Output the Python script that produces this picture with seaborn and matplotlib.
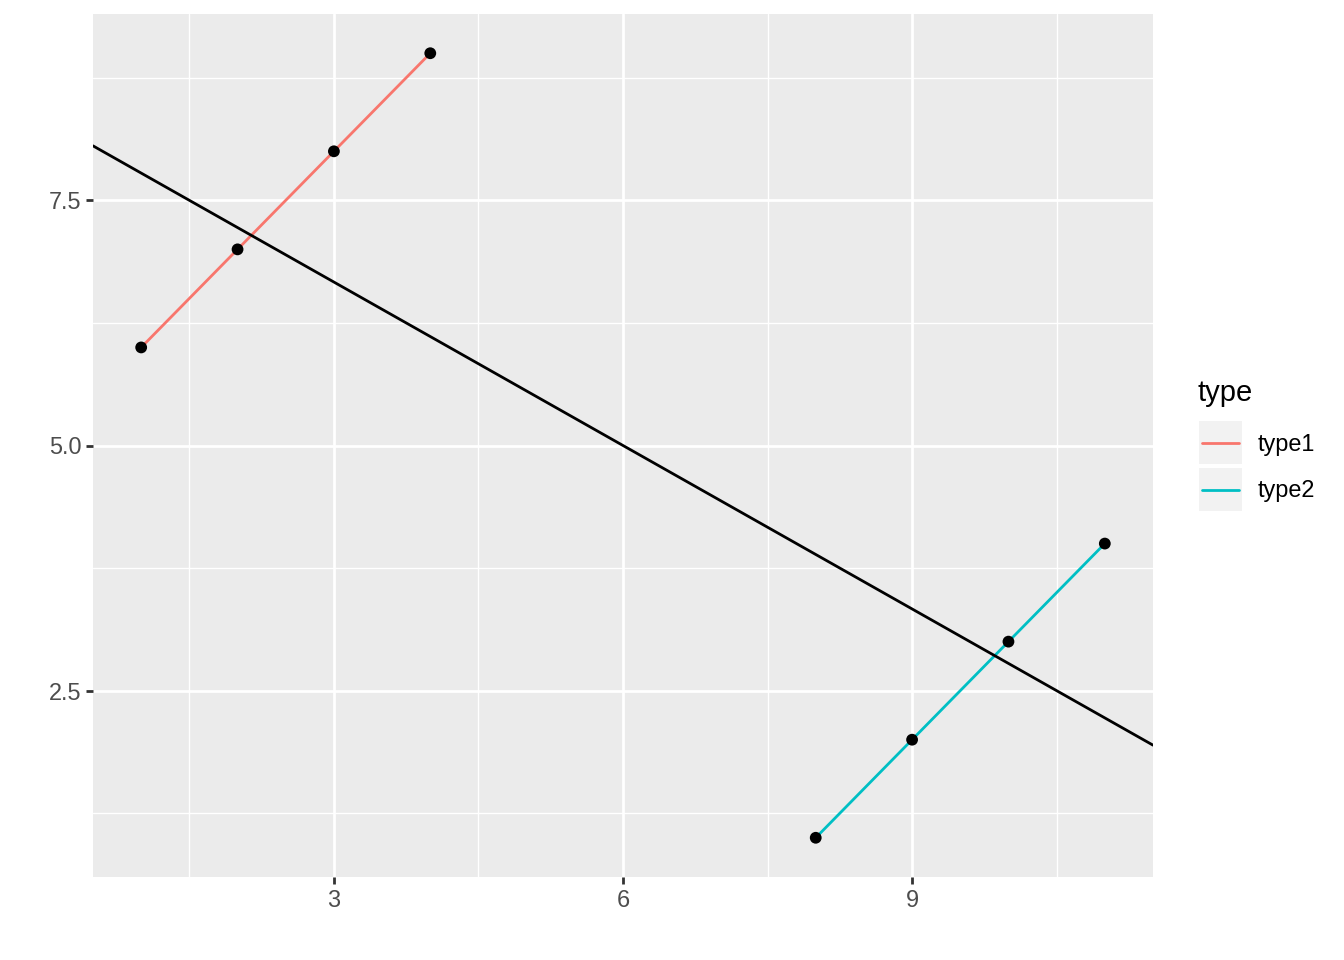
import numpy as np
import pandas as pd
import matplotlib
matplotlib.use("Agg")
import matplotlib.pyplot as plt
import seaborn as sns
from matplotlib.patches import Rectangle
from matplotlib.lines import Line2D

# ----------------------------------------------------------------------------------
# Data
# ----------------------------------------------------------------------------------
x_vals = [1, 2, 3, 4, 8, 9, 10, 11]
y_vals = [6, 7, 8, 9, 1, 2, 3, 4]
types = ["type1"] * 4 + ["type2"] * 4

levels = ["type1", "type2"]
colors = ["#F8766D", "#00BFC4"]

x_ticks = [3, 6, 9]
y_ticks = [2.5, 5.0, 7.5]

df = pd.DataFrame({"x": x_vals, "y": y_vals, "type": types})

# ----------------------------------------------------------------------------------
# Style (ggplot2 grey theme look)
# ----------------------------------------------------------------------------------
sns.set_style("darkgrid")
plt.rcParams["font.family"] = ["Liberation Sans", "DejaVu Sans"]

W, H = 1344, 960
fig = plt.figure(figsize=(W / 100, H / 100), dpi=100)
left, right, top, bottom = 93, 1153, 14, 877
ax = fig.add_axes([left / W, 1 - bottom / H, (right - left) / W, (bottom - top) / H])
ax.set_facecolor("#EBEBEB")

# 5% expansion like ggplot
xr = max(x_vals) - min(x_vals)
yr = max(y_vals) - min(y_vals)
xlim = (min(x_vals) - 0.05 * xr, max(x_vals) + 0.05 * xr)
ylim = (min(y_vals) - 0.05 * yr, max(y_vals) + 0.05 * yr)
ax.set_xlim(*xlim)
ax.set_ylim(*ylim)

# grid
ax.set_xticks(x_ticks)
ax.set_yticks(y_ticks)
ax.set_xticks([1.5, 4.5, 7.5, 10.5], minor=True)
ax.set_yticks([1.25, 3.75, 6.25, 8.75], minor=True)
ax.grid(which="major", color="white", linewidth=2.0)
ax.grid(which="minor", color="white", linewidth=1.0)
ax.set_axisbelow(True)
for s in ax.spines.values():
    s.set_visible(False)

# ----------------------------------------------------------------------------------
# Marks
# ----------------------------------------------------------------------------------
sns.lineplot(data=df, x="x", y="y", hue="type", hue_order=levels,
             palette=colors, linewidth=2.0, legend=False, ax=ax, zorder=2)
sns.regplot(data=df, x="x", y="y", scatter=False, ci=None, truncate=False,
            color="black", line_kws={"linewidth": 2.0, "zorder": 3}, ax=ax)
sns.scatterplot(data=df, x="x", y="y", color="black", s=72, edgecolor="none",
                legend=False, ax=ax, zorder=4)

ax.set_xlim(*xlim)
ax.set_ylim(*ylim)
ax.set_xlabel("")
ax.set_ylabel("")
ax.set_xticklabels([f"{t:g}" for t in x_ticks])
ax.set_yticklabels([f"{t:.1f}" for t in y_ticks])
ax.tick_params(which="major", bottom=True, left=True, length=5.3, width=2.0,
               color="#333333", labelcolor="#4D4D4D", labelsize=16.9, pad=3)
ax.tick_params(which="minor", bottom=False, left=False, length=0)

# ----------------------------------------------------------------------------------
# Legend (ggplot style keys)
# ----------------------------------------------------------------------------------
def fx(px):
    return px / W

def fy(py):
    return 1 - py / H

fig.text(fx(1197), fy(393), "type", fontsize=21, color="black",
         ha="left", va="center")
for i, (lab, col) in enumerate(zip(levels, colors)):
    y0 = 421 + i * 47
    fig.add_artist(Rectangle((fx(1199), fy(y0 + 43)), 43 / W, 43 / H,
                             facecolor="#F2F2F2", edgecolor="none",
                             transform=fig.transFigure))
    fig.add_artist(Line2D([fx(1202), fx(1239)], [fy(y0 + 21.5)] * 2,
                          color=col, linewidth=2.0, transform=fig.transFigure))
    fig.text(fx(1258), fy(y0 + 23), lab, fontsize=16.9, color="black",
             ha="left", va="center")

fig.savefig("out.png", dpi=100, facecolor="white")
